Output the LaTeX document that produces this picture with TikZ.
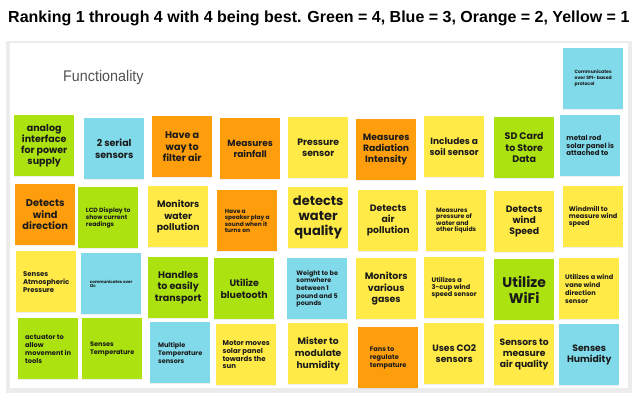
\documentclass[tikz,border=0pt]{standalone}
\usepackage{fontspec}
\usetikzlibrary{shadows}
\setmainfont{Liberation Sans}
\newfontfamily\titlefont{Liberation Sans}
\newfontfamily\boardfont{Liberation Sans}[FakeStretch=0.93]
\newfontfamily\notefont{Poppins}
\definecolor{ngreen}{RGB}{172,226,16}
\definecolor{nblue}{RGB}{128,218,234}
\definecolor{norange}{RGB}{254,158,12}
\definecolor{nyellow}{RGB}{255,234,72}
\definecolor{ntext}{RGB}{26,26,26}
\definecolor{frame}{RGB}{236,236,236}
\newcommand{\nf}[2]{\notefont\bfseries\fontsize{#1}{#2}\selectfont}
\tikzset{
  sticky/.style={anchor=north west, minimum width=60pt, minimum height=61pt,
    inner sep=0pt, text=ntext,
    drop shadow={shadow xshift=0pt, shadow yshift=-1.2pt, opacity=0.12}},
  ctr/.style={align=center, font=\nf{#1}{11.2}},
  lft/.style={align=left, font=\nf{6.9}{7.8}},
}
\newcommand{\sticky}[6]{\node[sticky, fill=#4, #5] (#1) at (#2,#3) {#6};}
\begin{document}
\begin{tikzpicture}[x=1pt,y=-1pt]
\useasboundingbox (0,0) rectangle (643,404);
\fill[white] (0,0) rectangle (643,404);
\node[font=\titlefont\bfseries\fontsize{16}{18}\selectfont, anchor=west, inner sep=0pt] (title) at (8,18)
  {Ranking 1 through 4 with 4 being best. Green = 4, Blue = 3, Orange = 2, Yellow = 1};
\fill[frame] (6,41) rectangle (632,393);
\fill[white] (10,43) rectangle (628,388);
\node[font=\boardfont\fontsize{15.4}{17}\selectfont, text=black!68, anchor=west, inner sep=0pt] (board) at (63,78) {Functionality};
% row 0
\sticky{spi}{563}{48}{nblue}{lft, font=\nf{4.6}{6}}{Communicates\\over SPI- based\\protocol}
% row 1
\sticky{analog}{14}{115}{ngreen}{ctr=9.5}{analog\\interface\\for power\\supply}
\sticky{serial}{84}{118}{nblue}{ctr=9.5}{2 serial\\sensors}
\sticky{filter}{152}{116}{norange}{ctr=9.6}{Have a\\way to\\filter air}
\sticky{rain}{220}{118}{norange}{ctr=9.0}{Measures\\rainfall}
\sticky{pressure}{288}{117}{nyellow}{ctr=9.3}{Pressure\\sensor}
\sticky{radiation}{356}{119}{norange}{ctr=9.2}{Measures\\Radiation\\Intensity}
\sticky{soil}{424}{116}{nyellow}{ctr=9.0}{Includes a\\soil sensor}
\sticky{sdcard}{494}{117}{ngreen}{ctr=9.5}{SD Card\\to Store\\Data}
\sticky{rod}{560}{115}{nblue}{lft, font=\nf{7.0}{7.7}}{metal rod\\solar panel is\\attached to}
% row 2
\sticky{winddir}{15}{184}{norange}{ctr=9.8, font=\nf{9.8}{11.6}}{Detects\\wind\\direction}
\sticky{lcd}{78}{187}{ngreen}{lft, font=\nf{6.1}{7.3}}{LCD Display to\\show current\\readings}
\sticky{waterpoll}{148}{186}{nyellow}{ctr=9.3}{Monitors\\water\\pollution}
\sticky{speaker}{217}{190}{norange}{lft, font=\nf{5.9}{6.1}}{Have a\\speaker play a\\sound when it\\turns on}
\sticky{waterqual}{288}{187}{nyellow}{ctr=13, font=\nf{13}{15}}{detects\\water\\quality}
\sticky{airpoll}{358}{190}{nyellow}{ctr=9.3}{Detects\\air\\pollution}
\sticky{waterpress}{426}{190}{nyellow}{lft, font=\nf{6.2}{6.6}}{Measures\\pressure of\\water and\\other liquids}
\sticky{windspeed}{494}{191}{nyellow}{ctr=9.3}{Detects\\wind\\Speed}
\sticky{windmill}{563}{186}{nyellow}{lft, font=\nf{6.6}{7}}{Windmill to\\measure wind\\speed}
% row 3
\sticky{atmos}{16}{251}{nyellow}{lft, font=\nf{6.9}{8}}{Senses\\Atmospheric\\Pressure}
\sticky{itwoc}{81}{253}{nblue}{lft, font=\nf{4.1}{4.6}}{communicates over\\I2c}
\sticky{handles}{148}{257}{ngreen}{ctr=9.5, font=\nf{9.5}{11.6}}{Handles\\to easily\\transport}
\sticky{bluetooth}{214}{258}{ngreen}{ctr=9.4, font=\nf{9.4}{11.7}}{Utilize\\bluetooth}
\sticky{weight}{287}{258}{nblue}{lft, font=\nf{6.4}{7.7}}{Weight to be\\somwhere\\between 1\\pound and 5\\pounds}
\sticky{gases}{356}{258}{nyellow}{ctr=9.4, font=\nf{9.4}{11.7}}{Monitors\\various\\gases}
\sticky{threecup}{424}{257}{nyellow}{lft, font=\nf{6.6}{7}}{Utilizes a\\3-cup wind\\speed sensor}
\sticky{wifi}{494}{259}{ngreen}{ctr=14, font=\nf{14}{16}}{Utilize\\WiFi}
\sticky{windvane}{559}{258}{nyellow}{lft, font=\nf{6.6}{8}}{Utilizes a wind\\vane wind\\direction\\sensor}
% row 4
\sticky{actuator}{18}{318}{ngreen}{lft, font=\nf{6.7}{8}}{actuator to\\allow\\movement in\\tools}
\sticky{temp}{82}{318}{ngreen}{lft, font=\nf{6.5}{8}}{Senses\\Temperature}
\sticky{multitemp}{150}{322}{nblue}{lft, font=\nf{6.5}{7.8}}{Multiple\\Temperature\\sensors}
\sticky{motor}{216}{324}{nyellow}{lft, font=\nf{7}{7.8}}{Motor moves\\solar panel\\towards the\\sun}
\sticky{mister}{288}{323}{nyellow}{ctr=9.2, font=\nf{9.2}{12}}{Mister to\\modulate\\humidity}
\sticky{fans}{358}{327}{norange}{lft, font=\nf{6.6}{7.9}}{Fans to\\regulate\\tempature}
\sticky{co2}{424}{323}{nyellow}{ctr=9.2}{Uses CO2\\sensors}
\sticky{airqual}{494}{324}{nyellow}{ctr=9.2, font=\nf{9.2}{10.9}}{Sensors to\\measure\\air quality}
\sticky{humidity}{559}{324}{nblue}{ctr=9.3}{Senses\\Humidity}
\end{tikzpicture}
\end{document}
